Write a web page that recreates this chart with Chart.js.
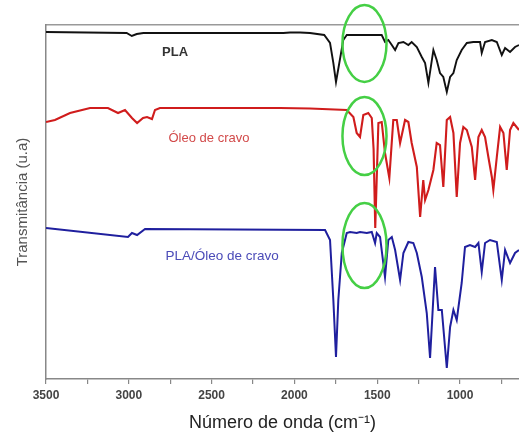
<!DOCTYPE html>
<html>
<head>
<meta charset="utf-8">
<script src="https://cdn.jsdelivr.net/npm/chart.js@4.4.1/dist/chart.umd.min.js"></script>
<style>
  html, body { margin: 0; padding: 0; background: #fff; }
</style>
</head>
<body>
<canvas id="ftir" width="519" height="436"></canvas>
<script>
// FTIR spectra, wavenumber in cm-1, transmittance in arbitrary units (stacked)
const plaWave = [3500, 3013, 2982, 2952, 2912, 2067, 2026, 1966, 1906, 1820, 1785, 1765, 1749, 1729, 1705,
  1684, 1473, 1453, 1433, 1412, 1392, 1372, 1342, 1312, 1292, 1261, 1231, 1211, 1191, 1161, 1141, 1121,
  1101, 1080, 1060, 1040, 1020, 990, 959, 920, 879, 869, 849, 808, 778, 748, 728, 698, 668, 644];
const plaT = [347, 346, 343, 345, 346, 346, 346.5, 346.5, 346, 344, 336, 316, 297, 316, 339,
  344, 344, 337, 339, 334, 329, 336, 337, 334, 337, 332, 322, 316, 296, 329, 319, 306,
  302, 287, 302, 306, 319, 329, 336, 337, 337, 326, 337, 339, 337, 324, 331, 327, 332, 334];

const oleoWave = [3500, 3446, 3355, 3234, 3126, 3065, 3023, 2981, 2950, 2914, 2890, 2860, 2842, 2812, 2087,
  1906, 1684, 1644, 1624, 1604, 1584, 1554, 1533, 1522, 1512, 1493, 1473, 1453, 1427, 1403, 1382, 1362,
  1332, 1312, 1292, 1261, 1241, 1222, 1211, 1191, 1161, 1141, 1121, 1101, 1080, 1060, 1040, 1020, 1000,
  980, 959, 929, 909, 889, 869, 849, 829, 808, 799, 778, 758, 738, 718, 698, 678, 644];
const oleoT = [257, 259, 266, 271, 271, 266, 269, 261, 256, 261, 262, 260, 269, 271, 271,
  270.5, 269, 262, 246, 242, 264, 266, 261, 230, 151, 256, 257, 226, 201, 259, 259, 236,
  259, 257, 236, 212, 162, 199, 179, 189, 209, 236, 234, 192, 259, 262, 246, 182, 236,
  252, 249, 232, 199, 242, 249, 242, 222, 202, 189, 222, 252, 246, 209, 249, 256, 249];

const blendWave = [3500, 3005, 2981, 2950, 2902, 1815, 1785, 1765, 1749, 1735, 1714, 1684, 1664, 1624, 1604,
  1563, 1533, 1513, 1503, 1483, 1453, 1433, 1412, 1392, 1362, 1342, 1312, 1282, 1261, 1231, 1201, 1181,
  1151, 1131, 1110, 1080, 1060, 1040, 1020, 990, 970, 940, 909, 889, 869, 849, 819, 778, 748, 728, 698,
  668, 644];
const blendT = [151, 142, 146, 144, 150, 149, 139, 79, 22, 79, 126, 146, 147, 146, 147,
  146, 147, 136, 146, 142, 102, 139, 142, 129, 99, 126, 137, 136, 126, 102, 66, 21,
  112, 69, 69, 11, 52, 69, 59, 96, 132, 134, 132, 136, 107, 136, 139, 137, 99, 129, 116,
  126, 129];

const seriesNames = ["PLA", "Óleo de cravo", "PLA/Óleo de cravo"];
const xTicks = [3500, 3250, 3000, 2750, 2500, 2250, 2000, 1750, 1500, 1250, 1000, 750];

// green marks around ~1580 cm-1 on each spectrum
const markWave = 1577;
const markT = [335.5, 243, 133.5];
const markHalfWidth = 133;
const markHalfHeight = [38.5, 39, 42.5];

// in-plot labels
const labelWave = [2721, 2516, 2437];
const labelT = [326.5, 241, 123];

function toPoints(xs, ys) {
  return xs.map((x, i) => ({ x: x, y: ys[i] }));
}

const annotations = {
  id: "annotations",
  afterDatasetsDraw(chart) {
    const ctx = chart.ctx;
    const xs = chart.scales.x;
    const ys = chart.scales.y;
    ctx.save();
    // series labels
    ctx.textAlign = "center";
    ctx.textBaseline = "middle";
    const fonts = ["bold 13px 'Liberation Sans', Arial, sans-serif",
      "13px 'Liberation Sans', Arial, sans-serif",
      "13.5px 'Liberation Sans', Arial, sans-serif"];
    const colors = ["#333333", "#d24a4a", "#4b4bb8"];
    seriesNames.forEach((name, i) => {
      ctx.font = fonts[i];
      ctx.fillStyle = colors[i];
      ctx.fillText(name, xs.getPixelForValue(labelWave[i]), ys.getPixelForValue(labelT[i]));
    });
    // ellipses
    ctx.strokeStyle = "#45cf45";
    ctx.lineWidth = 2.5;
    markT.forEach((t, i) => {
      const cx = xs.getPixelForValue(markWave);
      const cy = ys.getPixelForValue(t);
      const rx = Math.abs(xs.getPixelForValue(markWave - markHalfWidth) - cx);
      const ry = Math.abs(ys.getPixelForValue(t + markHalfHeight[i]) - cy);
      ctx.beginPath();
      ctx.ellipse(cx, cy, rx, ry, 0, 0, Math.PI * 2);
      ctx.stroke();
    });
    ctx.restore();
  },
};

const lineStyle = { pointRadius: 0, tension: 0, fill: false };

new Chart(document.getElementById("ftir"), {
  type: "line",
  data: {
    datasets: [
      { label: seriesNames[0], data: toPoints(plaWave, plaT), borderColor: "#111111", borderWidth: 1.9, ...lineStyle },
      { label: seriesNames[1], data: toPoints(oleoWave, oleoT), borderColor: "#d01c1c", borderWidth: 2.1, ...lineStyle },
      { label: seriesNames[2], data: toPoints(blendWave, blendT), borderColor: "#1f1f9e", borderWidth: 2, ...lineStyle },
    ],
  },
  options: {
    responsive: false,
    animation: false,
    devicePixelRatio: 1,
    layout: { padding: { top: 25, right: 0, bottom: 0, left: 0 } },
    plugins: { legend: { display: false }, tooltip: { enabled: false } },
    scales: {
      x: {
        type: "linear",
        position: "bottom",
        reverse: true,
        min: 644,
        max: 3500,
        afterBuildTicks: (scale) => {
          scale.ticks = xTicks.map((v) => ({ value: v }));
        },
        ticks: {
          autoSkip: false,
          maxRotation: 0,
          padding: 4,
          color: "#444",
          font: { family: "'Liberation Sans', Arial, sans-serif", size: 12, weight: "bold" },
          callback: (v) => (v % 500 === 0 ? String(v) : ""),
        },
        grid: { drawOnChartArea: false, drawTicks: true, tickLength: 5, color: "#888", lineWidth: 1.2 },
        border: { display: true, color: "#888", width: 1.5 },
        title: {
          display: true,
          text: "Número de onda (cm⁻¹)",
          color: "#222",
          font: { family: "'Liberation Sans', Arial, sans-serif", size: 18 },
          padding: { top: 6, bottom: 2 },
        },
      },
      xTop: {
        type: "linear",
        position: "top",
        reverse: true,
        min: 644,
        max: 3500,
        ticks: { display: false },
        grid: { display: false, drawTicks: false },
        border: { display: true, color: "#999", width: 1.5 },
      },
      y: {
        type: "linear",
        min: 0,
        max: 354,
        ticks: { display: false },
        grid: { display: false, drawTicks: false },
        border: { display: true, color: "#888", width: 1.5 },
        title: {
          display: true,
          text: "Transmitância (u.a)",
          color: "#555",
          font: { family: "'Liberation Sans', Arial, sans-serif", size: 15 },
          padding: { top: 14, bottom: 14 },
        },
      },
    },
  },
  plugins: [annotations],
});
</script>
</body>
</html>
